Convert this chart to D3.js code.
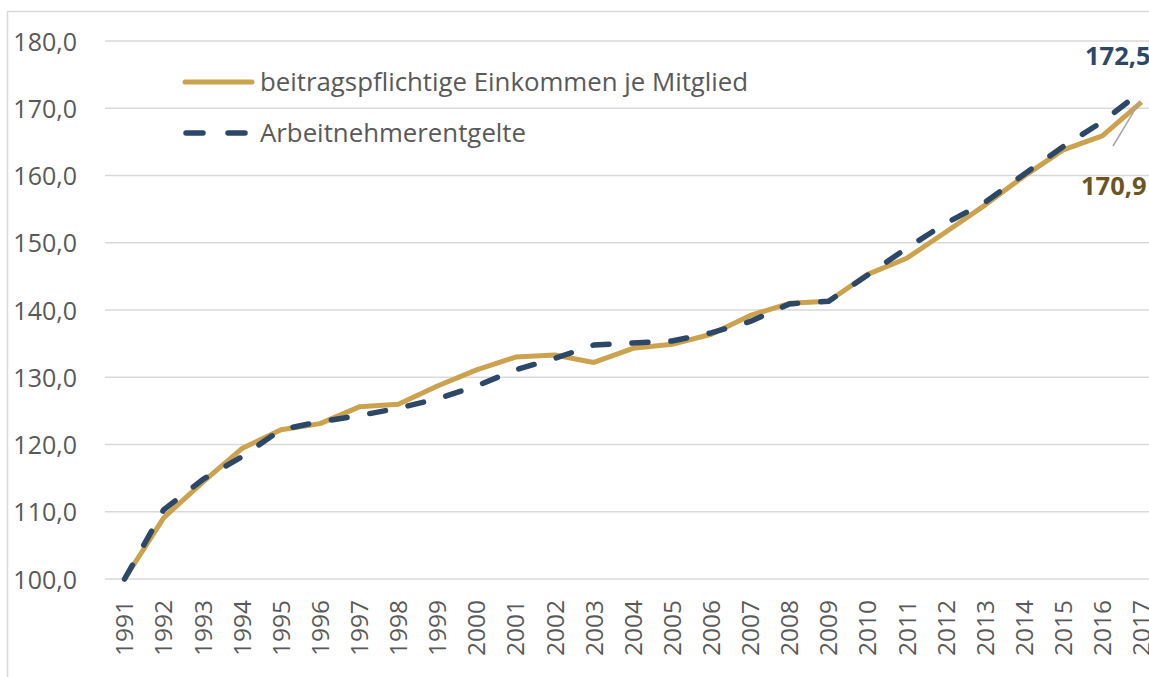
<!DOCTYPE html>
<html lang="de">
<head>
<meta charset="UTF-8">
<script src="https://d3js.org/d3.v7.min.js"></script>
<style>
  body { margin: 0; background: #fff; }
  text { font-family: "Open Sans", sans-serif; }
</style>
</head>
<body>
<svg width="1149" height="677"></svg>
<script>
// Jahre und Indexwerte (1991 = 100)
var years = d3.range(1991, 2018).map(String);
var einkommen = [100, 109.1, 114.4, 119.4, 122.2, 123.1, 125.6, 126.0, 128.7, 131.1,
                 133.0, 133.3, 132.2, 134.3, 134.9, 136.4, 139.2, 141.0, 141.3, 145.3,
                 147.7, 151.6, 155.6, 159.9, 163.8, 165.9, 170.9];
var entgelte = [100, 110.3, 114.8, 118.2, 122.2, 123.4, 124.3, 125.4, 126.8, 128.7,
                131.1, 132.8, 134.8, 135.1, 135.4, 136.6, 138.3, 140.9, 141.3, 145.2,
                149.2, 152.9, 156.0, 160.2, 164.3, 168.0, 172.5];
var yTicks = [100, 110, 120, 130, 140, 150, 160, 170, 180];
var seriesNames = ["beitragspflichtige Einkommen je Mitglied", "Arbeitnehmerentgelte"];

var gold = "#CBA34F", navy = "#2C4866", grey = "#595959";

var svg = d3.select("svg");

// aeusserer Rahmen
svg.append("rect")
    .attr("x", 7.5).attr("y", 11.5)
    .attr("width", 1160).attr("height", 700)
    .attr("fill", "none").attr("stroke", "#d9d9d9").attr("stroke-width", 1.5);

var pLeft = 105, pRight = 1161, pTop = 41, pBottom = 579;

var x = d3.scaleBand().domain(years).range([pLeft, pRight]);
var y = d3.scaleLinear().domain([100, 180]).range([pBottom, pTop]);

// Gitterlinien
svg.append("g").selectAll("line")
    .data(yTicks)
  .enter().append("line")
    .attr("x1", pLeft).attr("x2", pRight)
    .attr("y1", d => y(d)).attr("y2", d => y(d))
    .attr("stroke", "#d9d9d9").attr("stroke-width", 1.5);

// y-Achse
var yAxis = svg.append("g")
    .attr("transform", "translate(77,0)")
    .call(d3.axisLeft(y).tickValues(yTicks).tickSize(0)
      .tickFormat(d => d3.format(".1f")(d).replace(".", ",")));
yAxis.select(".domain").remove();
yAxis.selectAll("text")
    .attr("x", 0).attr("dy", "0.36em")
    .attr("fill", grey).style("font-size", "25px").style("font-family", "Open Sans");

// x-Achse
var xAxis = svg.append("g")
    .attr("transform", "translate(0," + pBottom + ")")
    .call(d3.axisBottom(x).tickSize(0));
xAxis.select(".domain").remove();
xAxis.selectAll("text")
    .attr("transform", "rotate(-90)")
    .attr("text-anchor", "end")
    .attr("x", -21).attr("y", 0).attr("dy", "0.36em")
    .attr("fill", grey).style("font-size", "24.5px").style("font-family", "Open Sans");

var line = d3.line()
    .x((d, i) => x(years[i]) + x.bandwidth() / 2)
    .y(d => y(d));

svg.append("path")
    .datum(einkommen)
    .attr("d", line)
    .attr("fill", "none").attr("stroke", gold)
    .attr("stroke-width", 5).attr("stroke-linejoin", "round");

svg.append("path")
    .datum(entgelte)
    .attr("d", line)
    .attr("fill", "none").attr("stroke", navy)
    .attr("stroke-width", 5.5).attr("stroke-linecap", "round")
    .attr("stroke-dasharray", "16,23");

// Legende
var legend = svg.append("g");
legend.append("line")
    .attr("x1", 185).attr("x2", 252).attr("y1", 82).attr("y2", 82)
    .attr("stroke", gold).attr("stroke-width", 5).attr("stroke-linecap", "round");
legend.append("line")
    .attr("x1", 186).attr("x2", 252).attr("y1", 133).attr("y2", 133)
    .attr("stroke", navy).attr("stroke-width", 5.5).attr("stroke-linecap", "round")
    .attr("stroke-dasharray", "17,25");
legend.selectAll("text")
    .data(seriesNames)
  .enter().append("text")
    .attr("x", 260).attr("y", (d, i) => 82 + i * 51)
    .attr("dy", "0.36em")
    .attr("fill", grey).style("font-size", "25.8px")
    .text(d => d);

// Endwerte
var last = years.length - 1;
var xe = x(years[last]) + x.bandwidth() / 2;
svg.append("text")
    .attr("x", 1085).attr("y", 65)
    .attr("fill", navy).style("font-size", "25.5px").style("font-weight", "bold")
    .text(d3.format(".1f")(entgelte[last]).replace(".", ","));
svg.append("line")
    .attr("x1", 1113).attr("y1", 146)
    .attr("x2", xe - 2).attr("y2", y(einkommen[last]))
    .attr("stroke", "#a6a6a6").attr("stroke-width", 1.5);
svg.append("text")
    .attr("x", 1081).attr("y", 195)
    .attr("fill", "#6B5523").style("font-size", "25.5px").style("font-weight", "bold")
    .text(d3.format(".1f")(einkommen[last]).replace(".", ","));
</script>
</body>
</html>
